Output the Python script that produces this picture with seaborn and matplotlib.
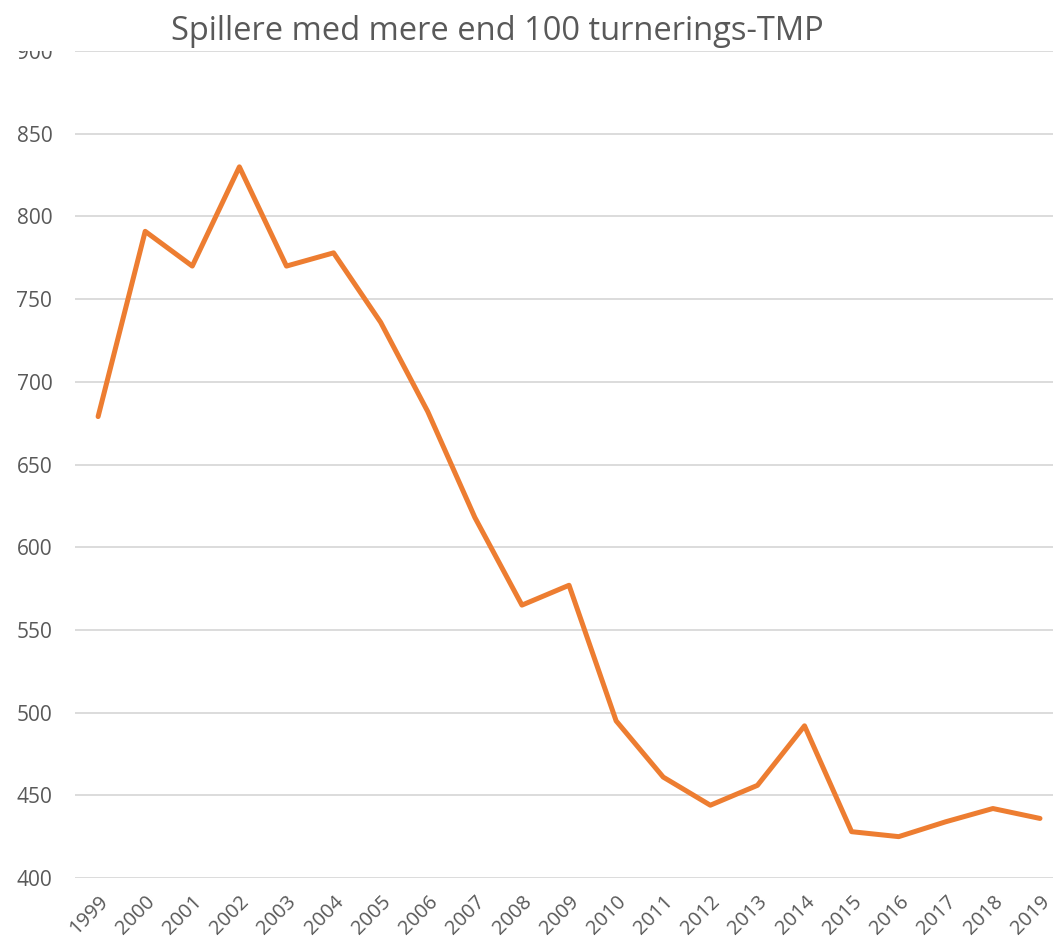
import matplotlib
matplotlib.use("Agg")
import matplotlib.pyplot as plt
from matplotlib.patches import Rectangle
import seaborn as sns
import pandas as pd

# Data
years = ["1999", "2000", "2001", "2002", "2003", "2004", "2005", "2006", "2007", "2008",
         "2009", "2010", "2011", "2012", "2013", "2014", "2015", "2016", "2017", "2018", "2019"]
players = [679, 791, 770, 830, 770, 778, 736, 682, 618, 565,
           577, 495, 461, 444, 456, 492, 428, 425, 434, 442, 436]
y_ticks = [400, 450, 500, 550, 600, 650, 700, 750, 800, 850, 900]

df = pd.DataFrame({"year": years, "players": players})

sns.set_style("white")
plt.rcParams["font.family"] = ["Open Sans", "DejaVu Sans"]

grey = "#595959"
fig = plt.figure(figsize=(10.53, 9.46), dpi=100)
ax = fig.add_axes([0.0708, 0.0719, 0.9392, 0.8741])

sns.lineplot(data=df, x="year", y="players", ax=ax, color="#ED7D31",
             linewidth=3.6, sort=False)

ax.set_xlim(-0.5, len(years) - 0.5)
ax.set_ylim(400, 900)
ax.set_yticks(y_ticks)
ax.set_yticklabels([str(v) for v in y_ticks])
ax.yaxis.grid(True, color="#D9D9D9", linewidth=1.3)
ax.set_axisbelow(True)
for s in ax.spines.values():
    s.set_visible(False)

ax.tick_params(axis="y", length=0, pad=16, labelsize=15, labelcolor=grey)
ax.tick_params(axis="x", length=0, pad=10, labelsize=14.5, labelcolor=grey)
for lab in ax.get_xticklabels():
    lab.set_rotation(45)
    lab.set_ha("right")
    lab.set_rotation_mode("anchor")
ax.set_xlabel("")
ax.set_ylabel("")

# the top tick label is partly hidden under the title area in the original
fig.add_artist(Rectangle((0, 1 - 51 / 946), 0.068, 51 / 946, transform=fig.transFigure,
                         facecolor="white", edgecolor="none", zorder=10))

fig.text(0.472, 0.967, "Spillere med mere end 100 turnerings-TMP",
         ha="center", va="center", fontsize=23.5, color=grey, zorder=11)

fig.savefig("out.png", dpi=100)
